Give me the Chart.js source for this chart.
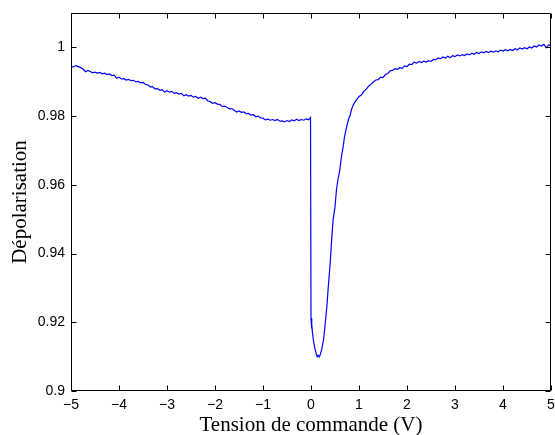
<!DOCTYPE html>
<html>
<head>
<meta charset="utf-8">
<script src="https://cdn.jsdelivr.net/npm/chart.js@4/dist/chart.umd.min.js"></script>
<style>
html,body{margin:0;padding:0;background:#fff;}
#c{display:block;}
</style>
</head>
<body>
<canvas id="c" width="555" height="435"></canvas>
<script>
// Tension de commande (V)
const voltage = [
-5.00,-4.95,-4.90,-4.85,-4.80,-4.75,-4.70,-4.65,-4.60,-4.55,-4.50,-4.45,-4.40,-4.35,-4.30,-4.25,-4.20,-4.15,-4.10,-4.05,
-4.00,-3.95,-3.90,-3.85,-3.80,-3.75,-3.70,-3.65,-3.60,-3.55,-3.50,-3.45,-3.40,-3.35,-3.30,-3.25,-3.20,-3.15,-3.10,-3.05,
-3.00,-2.95,-2.90,-2.85,-2.80,-2.75,-2.70,-2.65,-2.60,-2.55,-2.50,-2.45,-2.40,-2.35,-2.30,-2.25,-2.20,-2.15,-2.10,-2.05,
-2.00,-1.95,-1.90,-1.85,-1.80,-1.75,-1.70,-1.65,-1.60,-1.55,-1.50,-1.45,-1.40,-1.35,-1.30,-1.25,-1.20,-1.15,-1.10,-1.05,
-1.00,-0.95,-0.90,-0.85,-0.80,-0.75,-0.70,-0.65,-0.60,-0.55,-0.50,-0.45,-0.40,-0.35,-0.30,-0.25,-0.20,-0.15,-0.10,-0.05,
-0.01,0.00,0.01,0.02,0.03,0.05,0.08,0.11,0.13,0.15,0.17,0.19,0.22,0.26,0.29,0.33,0.36,0.40,0.43,0.46,
0.50,0.53,0.56,0.60,0.63,0.67,0.70,0.74,0.78,0.81,0.85,0.90,0.95,1.00,1.05,1.10,1.15,1.20,1.25,
1.30,1.35,1.40,1.45,1.50,1.55,1.60,1.65,1.70,1.75,1.80,1.85,1.90,1.95,2.00,2.05,2.10,2.15,2.20,2.25,
2.30,2.35,2.40,2.45,2.50,2.55,2.60,2.65,2.70,2.75,2.80,2.85,2.90,2.95,3.00,3.05,3.10,3.15,3.20,3.25,
3.30,3.35,3.40,3.45,3.50,3.55,3.60,3.65,3.70,3.75,3.80,3.85,3.90,3.95,4.00,4.05,4.10,4.15,4.20,4.25,
4.30,4.35,4.40,4.45,4.50,4.55,4.60,4.65,4.70,4.75,4.80,4.85,4.90,4.95,5.00
];
// Dépolarisation
const depolarisation = [
0.9944,0.9943,0.9947,0.9944,0.9941,0.9937,0.9929,0.9933,0.9930,0.9926,0.9928,0.9925,0.9927,0.9923,0.9925,0.9921,0.9923,0.9918,0.9919,0.9910,
0.9913,0.9908,0.9909,0.9905,0.9907,0.9903,0.9904,0.9900,0.9901,0.9897,0.9898,0.9892,0.9891,0.9885,0.9886,0.9879,0.9880,0.9875,0.9877,0.9870,
0.9874,0.9870,0.9872,0.9866,0.9868,0.9864,0.9866,0.9859,0.9862,0.9858,0.9860,0.9855,0.9857,0.9852,0.9855,0.9851,0.9852,0.9844,0.9842,0.9837,
0.9839,0.9835,0.9834,0.9828,0.9829,0.9826,0.9821,0.9822,0.9817,0.9812,0.9815,0.9811,0.9812,0.9807,0.9808,0.9803,0.9804,0.9798,0.9800,0.9795,
0.9794,0.9789,0.9791,0.9788,0.9790,0.9787,0.9790,0.9785,0.9786,0.9783,0.9787,0.9784,0.9789,0.9786,0.9791,0.9787,0.9790,0.9788,0.9792,0.9789,
0.9796,0.9212,0.9182,0.9195,0.9170,0.9148,0.9124,0.9108,0.9100,0.9104,0.9099,0.9105,0.9119,0.9148,0.9187,0.9245,0.9303,0.9372,0.9439,0.9498,
0.9536,0.9585,0.9614,0.9643,0.9678,0.9711,0.9741,0.9767,0.9790,0.9800,0.9822,0.9838,0.9848,0.9857,0.9861,0.9872,0.9878,0.9887,0.9893,
0.9899,0.9905,0.9906,0.9913,0.9912,0.9921,0.9924,0.9932,0.9933,0.9938,0.9936,0.9941,0.9939,0.9946,0.9944,0.9951,0.9950,0.9957,0.9954,0.9959,
0.9956,0.9960,0.9957,0.9961,0.9959,0.9965,0.9964,0.9969,0.9967,0.9972,0.9969,0.9974,0.9970,0.9976,0.9973,0.9978,0.9975,0.9979,0.9976,0.9981,
0.9978,0.9983,0.9980,0.9985,0.9982,0.9987,0.9984,0.9988,0.9985,0.9989,0.9986,0.9990,0.9987,0.9992,0.9989,0.9993,0.9990,0.9994,0.9991,0.9996,
0.9993,0.9998,0.9995,0.9999,0.9996,1.0001,0.9998,1.0004,1.0001,1.0007,1.0004,1.0009,0.9999,1.0007,1.0005
];
const xTickValues = [-5,-4,-3,-2,-1,0,1,2,3,4,5];
const xTickLabels = ['\u22125','\u22124','\u22123','\u22122','\u22121','0','1','2','3','4','5'];
const yTickValues = [0.9,0.92,0.94,0.96,0.98,1];
const yTickLabels = ['0.9','0.92','0.94','0.96','0.98','1'];

const points = voltage.map((v,i)=>({x:v,y:depolarisation[i]}));

const boxTicks = {
  id:'boxTicks',
  afterDraw(chart){
    const {ctx, chartArea:a, scales:{x,y}} = chart;
    ctx.save();
    ctx.strokeStyle='#000';
    ctx.lineWidth=1;
    const L=Math.round(a.left)+0.5, R=Math.round(a.right)-0.5, T=Math.round(a.top)+0.5, B=Math.round(a.bottom)-0.5;
    ctx.beginPath();
    ctx.rect(L,T,R-L,B-T);
    const len=5;
    xTickValues.forEach(v=>{
      const px=Math.round(x.getPixelForValue(v))+0.5;
      ctx.moveTo(px,B); ctx.lineTo(px,B-len);
      ctx.moveTo(px,T); ctx.lineTo(px,T+len);
    });
    yTickValues.forEach(v=>{
      const py=Math.round(y.getPixelForValue(v))+0.5;
      ctx.moveTo(L,py); ctx.lineTo(L+len,py);
      ctx.moveTo(R,py); ctx.lineTo(R-len,py);
    });
    ctx.stroke();
    ctx.restore();
  }
};

new Chart(document.getElementById('c'),{
  type:'line',
  data:{datasets:[{data:points,borderColor:'#0000ff',borderWidth:1.2,pointRadius:0,tension:0,fill:false}]},
  options:{
    responsive:false,
    animation:false,
    events:[],
    layout:{padding:{top:13,right:4,left:0,bottom:0}},
    plugins:{legend:{display:false},tooltip:{enabled:false}},
    scales:{
      x:{
        type:'linear',min:-5,max:5,
        afterBuildTicks(s){s.ticks=xTickValues.map(v=>({value:v}));},
        afterFit(s){s.height=44;s.paddingLeft=0;s.paddingRight=0;},
        grid:{display:false,drawTicks:false},
        border:{display:false},
        ticks:{padding:6,color:'#000',font:{family:'Liberation Sans',size:14},maxRotation:0,autoSkip:false,
          callback:(v)=>xTickLabels[xTickValues.indexOf(v)]},
        title:{display:true,text:'Tension de commande (V)',color:'#000',font:{family:'Liberation Serif',size:21},padding:{top:0,bottom:-3}}
      },
      y:{
        type:'linear',min:0.9,max:1.01,
        afterBuildTicks(s){s.ticks=yTickValues.map(v=>({value:v}));},
        afterFit(s){s.width=71;s.paddingTop=0;s.paddingBottom=0;},
        grid:{display:false,drawTicks:false},
        border:{display:false},
        ticks:{padding:6,color:'#000',font:{family:'Liberation Sans',size:14},autoSkip:false,
          callback:(v)=>{const i=yTickValues.findIndex(t=>Math.abs(t-v)<1e-9);return i>=0?yTickLabels[i]:'';}},
        title:{display:true,text:'Dépolarisation',color:'#000',font:{family:'Liberation Serif',size:21},padding:{top:8,bottom:0}}
      }
    }
  },
  plugins:[boxTicks]
});
</script>
</body>
</html>
